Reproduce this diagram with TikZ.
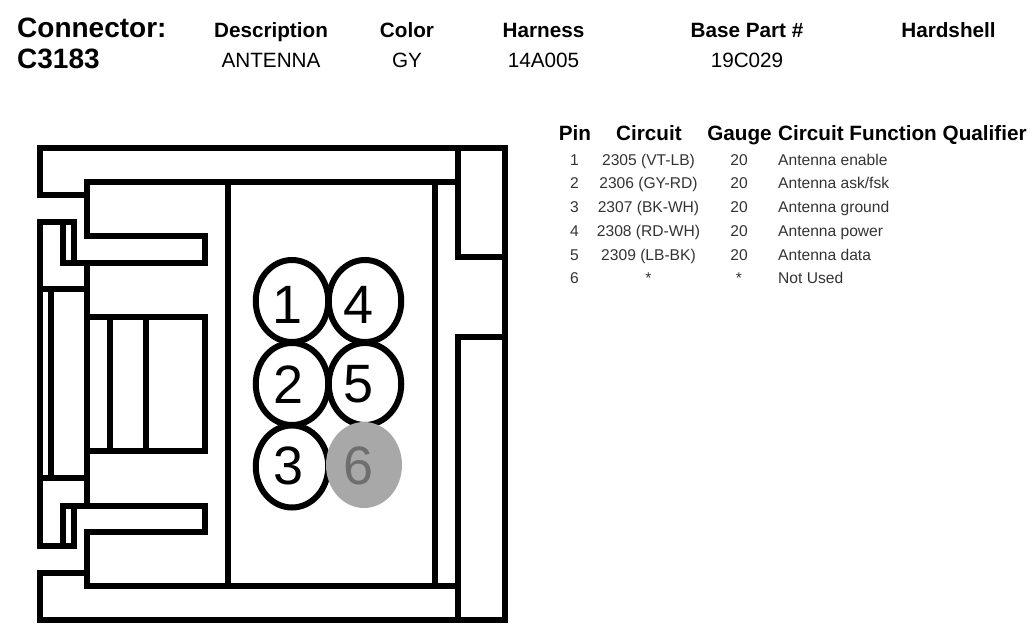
\documentclass[tikz,border=0pt]{standalone}
\usepackage{xcolor}
\usepackage{fontspec}
\setmainfont{Liberation Sans}
\usetikzlibrary{shapes.geometric}
\definecolor{pinoff}{HTML}{A8A8A8}
\definecolor{numoff}{HTML}{6E6E6E}
\tikzset{
  wall/.style={line width=6pt,black},
  pinhole/.style={ellipse,draw=black,line width=6pt,fill=white,minimum width=72.5pt,minimum height=82pt,inner sep=0pt},
  pinblank/.style={ellipse,fill=pinoff,minimum width=76pt,minimum height=86pt,inner sep=0pt},
  pinnum/.style={inner sep=0pt,font=\fontsize{54}{54}\selectfont},
  conn/.style={anchor=base west,inner sep=0pt,font=\bfseries\fontsize{28}{30}\selectfont},
  head/.style={anchor=base,inner sep=0pt,font=\bfseries\fontsize{20.7}{24}\selectfont},
  val/.style={anchor=base,inner sep=0pt,font=\fontsize{20.7}{24}\selectfont},
  cell/.style={anchor=base,inner sep=0pt,font=\fontsize{15.6}{18}\selectfont,text=black!80},
}
\begin{document}
\begin{tikzpicture}[x=1pt,y=-1pt]
\useasboundingbox (0,0) rectangle (1034,628);
%title block
\node[conn] (conn) at (17,38) {Connector:};
\node[conn] (connid) at (17,69) {C3183};
\foreach \n/\x/\h/\v in {desc/271/Description/ANTENNA,color/407/Color/GY,harn/543.5/Harness/14A005,base/747/Base Part \#/19C029}{
  \node[head] (\n head) at (\x,37.5) {\h};
  \node[val] (\n val) at (\x,68) {\v};
}
\node[head] (shellhead) at (948.5,37.5) {Hardshell};
%outer shell
\draw[wall] (87,195.5) -- (40,195.5) -- (40,148.5) -- (505,148.5) -- (505,620) -- (40,620) -- (40,572.7) -- (87,572.7);
\draw[wall] (458,148.5) -- (458,256.7) -- (505,256.7);
\draw[wall] (505,336.7) -- (458,336.7) -- (458,620);
%inner cavity
\draw[wall] (458,182.3) -- (87,182.3) -- (87,236) -- (204.5,236) -- (204.5,262.7) -- (63,262.7) -- (63,222);
\draw[wall] (458,586) -- (87,586) -- (87,532.3) -- (204.5,532.3) -- (204.5,506) -- (63,506) -- (63,546);
\draw[wall] (228,182.3) -- (228,586);
\draw[wall] (435,182.3) -- (435,586);
%left latch
\draw[wall] (74,262.7) -- (74,222) -- (40,222) -- (40,546) -- (74,546) -- (74,506);
\draw[wall] (87,262.7) -- (87,506);
\draw[wall] (40,289.3) -- (87,289.3);
\draw[wall] (40,478.3) -- (87,478.3);
\draw[wall] (51.3,289.3) -- (51.3,478.3);
%center block
\draw[wall] (87,316.7) -- (204.5,316.7) -- (204.5,451.3) -- (87,451.3);
\draw[wall] (110,316.7) -- (110,451.3);
\draw[wall] (146,316.7) -- (146,451.3);
%pins
\foreach \n/\cx/\cy/\tx/\ty in {1/292/301/288/304.5,4/365/301/358.5/304.5,2/292/384/288.5/384.5,5/365/384/359/384.5,3/292/466.5/289/466}{
  \node[pinhole] (pin\n) at (\cx,\cy) {};
  \node[pinnum] (num\n) at (\tx,\ty) {\n};
}
\node[pinblank] (pin6) at (364,465) {};
\node[pinnum,text=numoff] (num6) at (359,466) {6};
%pin table
\node[head] (pinhead) at (575,140.5) {Pin};
\node[head] (cirhead) at (649,140.5) {Circuit};
\node[head] (gauhead) at (739.5,140.5) {Gauge};
\node[head,anchor=base west] (funhead) at (778,140.5) {Circuit Function Qualifier};
\foreach \n/\y/\c/\g/\f in {1/165.5/2305 (VT-LB)/20/Antenna enable,2/189/2306 (GY-RD)/20/{Antenna ask/fsk},3/212.5/2307 (BK-WH)/20/Antenna ground,4/236.5/2308 (RD-WH)/20/Antenna power,5/260.5/2309 (LB-BK)/20/Antenna data,6/284/*/*/Not Used}{
  \node[cell] (p\n) at (574.5,\y) {\n};
  \node[cell] (c\n) at (648.5,\y) {\c};
  \node[cell] (g\n) at (739,\y) {\g};
  \node[cell,anchor=base west] (f\n) at (778,\y) {\f};
}
\end{tikzpicture}
\end{document}
